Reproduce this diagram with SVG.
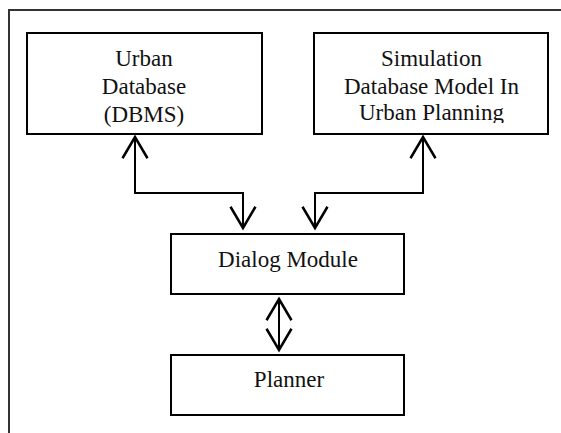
<svg xmlns="http://www.w3.org/2000/svg" width="561" height="433" viewBox="0 0 561 433">
  <style>
    .box { fill: #fff; stroke: #000; stroke-width: 2; }
    .lbl { font-family: "Liberation Serif", "Times New Roman", serif; font-size: 23px; fill: #111; text-anchor: middle; }
    .conn { fill: none; stroke: #000; stroke-width: 2; }
    .frame { fill: none; stroke: #333; stroke-width: 2; }
  </style>
  <defs>
    <marker id="ah" markerUnits="userSpaceOnUse" markerWidth="30" markerHeight="30" viewBox="-20 -12 22 24" refX="0" refY="0" orient="auto-start-reverse">
      <path d="M-17,-10 L0,0 L-17,10" fill="none" stroke="#000" stroke-width="2"/>
    </marker>
    <clipPath id="simclip">
      <rect x="314" y="33" width="234" height="90"/>
    </clipPath>
  </defs>
  <rect width="561" height="433" fill="#fff"/>
  <path class="frame" d="M9,433 V10 H561"/>

  <g id="urban-db">
    <rect class="box" x="27" y="33" width="235" height="101"/>
    <text class="lbl" x="144" y="65.5">Urban</text>
    <text class="lbl" x="144" y="93.5">Database</text>
    <text class="lbl" x="144" y="121.5">(DBMS)</text>
  </g>

  <g id="simulation-model">
    <rect class="box" x="314" y="33" width="234" height="101"/>
    <g clip-path="url(#simclip)">
      <text class="lbl" x="431.5" y="66">Simulation</text>
      <text class="lbl" x="431.5" y="93.5">Database Model In</text>
      <text class="lbl" x="431.5" y="120">Urban Planning</text>
    </g>
  </g>

  <g id="dialog-module">
    <rect class="box" x="171" y="234" width="233" height="60"/>
    <text class="lbl" x="288" y="266.5">Dialog Module</text>
  </g>

  <g id="planner">
    <rect class="box" x="171" y="355" width="233" height="60"/>
    <text class="lbl" x="289" y="386.5">Planner</text>
  </g>

  <g id="connectors">
    <path class="conn" d="M243,228 V193 H135 V137" marker-start="url(#ah)" marker-end="url(#ah)"/>
    <path class="conn" d="M315,228 V193 H423 V137" marker-start="url(#ah)" marker-end="url(#ah)"/>
    <path class="conn" d="M279,299 V350" marker-start="url(#ah)" marker-end="url(#ah)"/>
  </g>
</svg>
